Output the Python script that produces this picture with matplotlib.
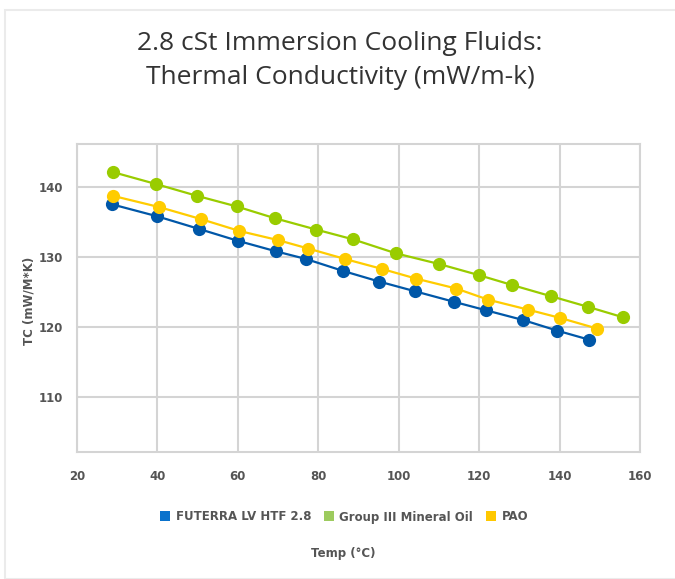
import matplotlib.pyplot as plt
from matplotlib.patches import Rectangle
from matplotlib.lines import Line2D

# values
futerra_temp = [28.7, 39.9, 50.3, 60.0, 69.5, 77.0, 86.2, 95.1, 104.1, 113.8, 121.7, 131.0, 139.4, 147.4]
futerra_tc = [137.5, 135.8, 134.0, 132.3, 130.8, 129.7, 128.0, 126.5, 125.1, 123.6, 122.4, 121.0, 119.5, 118.2]

mineral_temp = [28.9, 39.6, 49.9, 59.7, 69.3, 79.5, 88.7, 99.4, 110.0, 120.0, 128.2, 137.9, 147.0, 155.8]
mineral_tc = [142.1, 140.4, 138.7, 137.2, 135.5, 133.9, 132.5, 130.5, 129.0, 127.4, 126.0, 124.4, 122.9, 121.4]

pao_temp = [29.0, 40.5, 50.8, 60.4, 70.0, 77.5, 86.7, 95.8, 104.4, 114.3, 122.3, 132.1, 140.2, 149.3]
pao_tc = [138.7, 137.1, 135.4, 133.7, 132.4, 131.2, 129.7, 128.3, 126.9, 125.5, 123.9, 122.5, 121.3, 119.8]

series_names = ["FUTERRA LV HTF 2.8", "Group III Mineral Oil", "PAO"]
x_ticks = [20, 40, 60, 80, 100, 120, 140, 160]
y_ticks = [110, 120, 130, 140]

line_colors = ["#0057a8", "#99cc00", "#ffcc00"]
legend_colors = ["#0a72cc", "#9dcb5e", "#ffc800"]
grid_col = "#d4d4d4"
text_col = "#555555"

plt.rcParams['font.family'] = ['DejaVu Sans']

fig = plt.figure(figsize=(6.75, 5.79), dpi=100)
fig.patches.append(Rectangle((5/675, 0), 1.0, 1 - 10/579, transform=fig.transFigure,
                             fill=False, edgecolor="#ebebeb", linewidth=1.5))

ax = fig.add_axes([77/675, 1 - 452/579, (640 - 77)/675, (452 - 144)/579])

data = [(futerra_temp, futerra_tc), (mineral_temp, mineral_tc), (pao_temp, pao_tc)]
# draw blue last so it sits on top like the reference
for i in [1, 2, 0]:
    xs, ys = data[i]
    ax.plot(xs, ys, color=line_colors[i], linewidth=1.6, marker='o',
            markersize=9.5, markeredgewidth=0, zorder=3 + i)

ax.set_xlim(20, 160)
ax.set_ylim(102.2, 146.1)
ax.set_xticks(x_ticks)
ax.set_yticks(y_ticks)
ax.grid(True, color=grid_col, linewidth=1.5)
ax.set_axisbelow(True)
for s in ax.spines.values():
    s.set_color(grid_col)
    s.set_linewidth(1.5)
ax.tick_params(length=0, labelsize=8.5, labelcolor=text_col)
ax.tick_params(axis='x', pad=13)
ax.tick_params(axis='y', pad=10)
for lbl in ax.get_xticklabels() + ax.get_yticklabels():
    lbl.set_fontweight('bold')

ax.set_ylabel("TC (mW/M*K)", fontsize=8.5, fontweight='bold', color=text_col)
ax.yaxis.set_label_coords(-0.074, 0.49)

title_font = dict(ha='center', va='center', fontsize=19, family=['Open Sans', 'DejaVu Sans'],
                  color="#333333")
fig.text(340/675, 1 - 44/579, "2.8 cSt Immersion Cooling Fluids:", **title_font)
fig.text(340/675, 1 - 77/579, "Thermal Conductivity (mW/m-k)", **title_font)

handles = [Line2D([], [], linestyle='none', marker='s', markersize=6.5,
                  markerfacecolor=c, markeredgewidth=0) for c in legend_colors]
leg = fig.legend(handles, series_names, loc='center', bbox_to_anchor=(343/675, 1 - 517/579),
                 ncol=3, frameon=False, handletextpad=0.3, columnspacing=0.9,
                 handlelength=1.2, prop={'size': 8.5, 'weight': 'bold'})
for t in leg.get_texts():
    t.set_color(text_col)

fig.text(343/675, 1 - 553/579, "Temp (°C)", ha='center', va='center',
         fontsize=8.5, fontweight='bold', color=text_col)

fig.savefig("out.png", dpi=100)
